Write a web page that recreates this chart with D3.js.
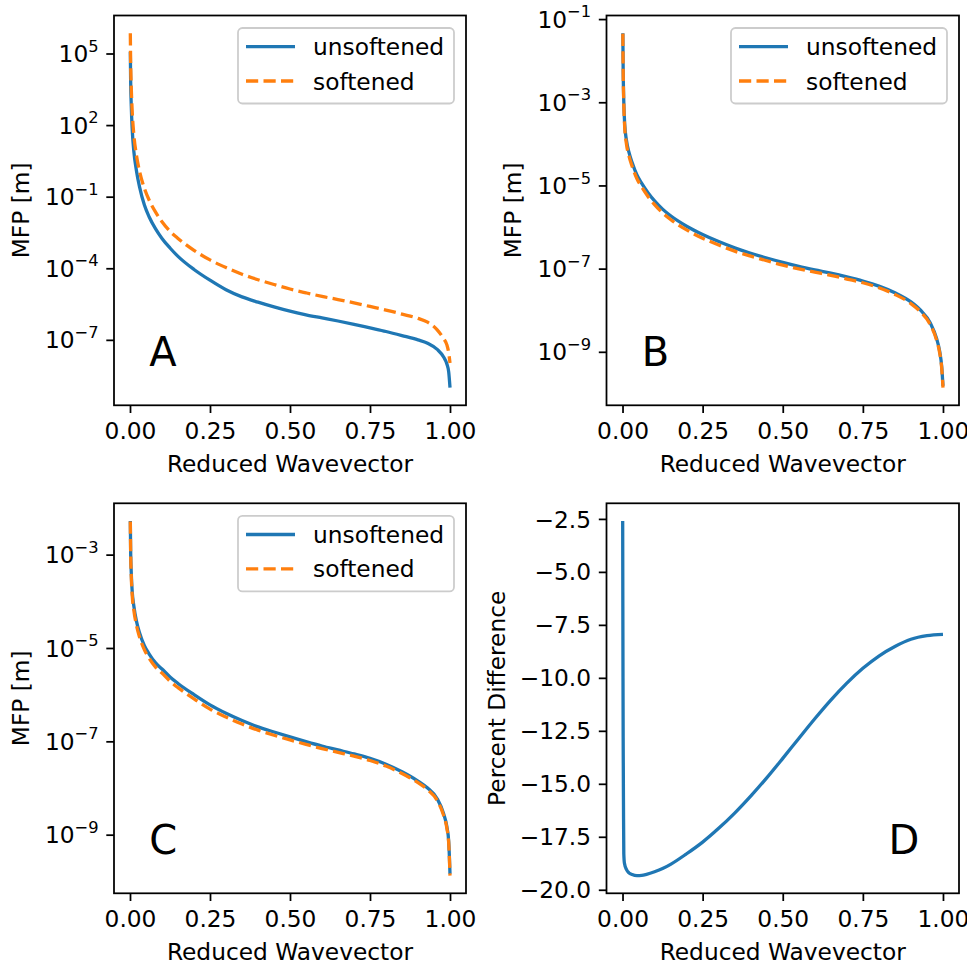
<!DOCTYPE html>
<html><head><meta charset="utf-8">
<script src="https://cdn.jsdelivr.net/npm/d3@7"></script>
<style>
body{margin:0;background:#fff}
svg{display:block}
text{font-family:"DejaVu Sans",sans-serif;fill:#000}
</style>
</head><body>
<svg id="chart" width="967" height="963"></svg>
<script>
// ---------- DATA ----------
// reduced wavevector samples for the MFP panels
const xWave = [0.001,0.002,0.004,0.007,0.012,0.02,0.03,0.045,0.06,0.08,0.1,0.125,0.15,0.2,0.25,0.3,0.35,0.4,0.45,0.5,0.55,0.6,0.65,0.7,0.75,0.8,0.85,0.9,0.93,0.96,0.98,0.99,0.996,1.0];
// MFP values, stored as log10(MFP / m)
const mfpA_unsoftened = [5.07,3.9,2.8,1.8,0.9,0.1,-0.6,-1.35,-1.85,-2.35,-2.75,-3.15,-3.5,-4.05,-4.5,-4.9,-5.2,-5.42,-5.62,-5.8,-5.95,-6.08,-6.21,-6.35,-6.5,-6.65,-6.82,-7.0,-7.14,-7.4,-7.72,-8.0,-8.35,-9.0];
const mfpA_softened   = [5.85,4.65,3.55,2.55,1.6,0.75,0.05,-0.65,-1.15,-1.65,-2.05,-2.45,-2.75,-3.25,-3.65,-3.97,-4.25,-4.48,-4.68,-4.87,-5.03,-5.18,-5.31,-5.45,-5.6,-5.75,-5.92,-6.1,-6.26,-6.58,-6.95,-7.2,-7.55,-7.97];
const mfpB_unsoftened = [-1.34,-2.2,-3.0,-3.55,-3.9,-4.2,-4.45,-4.75,-4.95,-5.18,-5.37,-5.57,-5.73,-5.98,-6.18,-6.35,-6.5,-6.63,-6.745,-6.85,-6.945,-7.03,-7.11,-7.2,-7.3,-7.42,-7.58,-7.8,-8.0,-8.3,-8.68,-9.0,-9.35,-9.82];
const mfpB_softened   = [-1.35,-2.23,-3.06,-3.63,-3.99,-4.29,-4.54,-4.84,-5.04,-5.27,-5.46,-5.66,-5.82,-6.07,-6.27,-6.43,-6.58,-6.70,-6.81,-6.915,-7.005,-7.085,-7.16,-7.25,-7.34,-7.46,-7.62,-7.84,-8.04,-8.34,-8.72,-9.04,-9.39,-9.86];
const mfpC_unsoftened = [-2.28,-2.9,-3.4,-3.8,-4.1,-4.42,-4.68,-4.95,-5.13,-5.32,-5.45,-5.62,-5.76,-6.0,-6.22,-6.4,-6.555,-6.69,-6.8,-6.905,-7.005,-7.1,-7.185,-7.27,-7.365,-7.49,-7.65,-7.85,-8.0,-8.23,-8.55,-8.82,-9.15,-9.84];
const mfpC_softened   = [-2.29,-2.93,-3.46,-3.88,-4.19,-4.51,-4.77,-5.04,-5.22,-5.41,-5.54,-5.71,-5.85,-6.09,-6.31,-6.48,-6.63,-6.76,-6.87,-6.97,-7.065,-7.155,-7.236,-7.317,-7.41,-7.53,-7.69,-7.887,-8.037,-8.266,-8.586,-8.856,-9.186,-9.876];
// percent difference panel
const xDiff = [0.0005,0.001,0.0015,0.002,0.003,0.004,0.006,0.0125,0.02,0.03,0.045,0.06,0.075,0.1,0.125,0.15,0.2,0.25,0.3,0.35,0.4,0.45,0.5,0.55,0.6,0.65,0.7,0.75,0.8,0.85,0.9,0.95,1.0];
const percentDiff = [-2.6,-6.5,-10,-12.8,-16,-18.3,-18.75,-19.05,-19.2,-19.28,-19.33,-19.32,-19.27,-19.15,-19.0,-18.8,-18.3,-17.75,-17.1,-16.38,-15.58,-14.72,-13.8,-12.86,-11.93,-11.05,-10.25,-9.55,-8.97,-8.52,-8.18,-8.01,-7.95];
// ticks
const xTicks = [0, 0.25, 0.5, 0.75, 1.0];
const yTickExpA = [5, 2, -1, -4, -7];
const yTickExpB = [-1, -3, -5, -7, -9];
const yTickExpC = [-3, -5, -7, -9];
const yTicksD = [-20, -17.5, -15, -12.5, -10, -7.5, -5, -2.5];
const seriesNames = ["unsoftened", "softened"];
const panelLetters = ["A", "B", "C", "D"];
const xLabel = "Reduced Wavevector";
const yLabelMFP = "MFP [m]";
const yLabelDiff = "Percent Difference";

// ---------- STYLE ----------
const BLUE = "#1f77b4", ORANGE = "#ff7f0e";
const FS = 23.3, LW = 3.3, SPINE = 1.76, TICK = 7.7, PAD = 7.7;
const svg = d3.select("#chart");
const MINUS = "\u2212";

const boxes = [
  {l:114, t:15.5, r:466, b:405.3},
  {l:606.5, t:15.5, r:959, b:405.3},
  {l:114, t:503.3, r:466, b:893.3},
  {l:606.5, t:503.3, r:959, b:893.3}
];

function logDomain(arrs){
  const all = arrs.flat();
  const lo = d3.min(all), hi = d3.max(all), m = (hi - lo) * 0.05;
  return [Math.pow(10, lo - m), Math.pow(10, hi + m)];
}
function linDomain(arr){
  const lo = d3.min(arr), hi = d3.max(arr), m = (hi - lo) * 0.05;
  return [lo - m, hi + m];
}

function drawPanel(i, cfg){
  const bx = boxes[i];
  const g = svg.append("g");
  const x = d3.scaleLinear().domain([-0.05, 1.05]).range([bx.l, bx.r]);
  const y = cfg.log ? d3.scaleLog().domain(cfg.domain).range([bx.b, bx.t])
                    : d3.scaleLinear().domain(cfg.domain).range([bx.b, bx.t]);

  // x axis
  const xa = g.append("g").attr("transform", `translate(0,${bx.b})`)
    .call(d3.axisBottom(x).tickValues(xTicks).tickFormat(d3.format(".2f"))
      .tickSize(TICK).tickPadding(PAD).tickSizeOuter(0));
  xa.select(".domain").remove();
  xa.selectAll("line").attr("stroke", "#000").attr("stroke-width", SPINE);
  xa.selectAll("text").attr("font-size", FS).attr("font-family", "DejaVu Sans").attr("fill", "#000")
    .attr("dy", null).attr("y", TICK + PAD + 1.5 + 16.9);

  // y axis
  const ya = g.append("g").attr("transform", `translate(${bx.l},0)`)
    .call(d3.axisLeft(y).tickValues(cfg.yTicks).tickFormat("")
      .tickSize(TICK).tickPadding(PAD).tickSizeOuter(0));
  ya.select(".domain").remove();
  ya.selectAll("line").attr("stroke", "#000").attr("stroke-width", SPINE);
  ya.selectAll("text").remove();
  cfg.yTicks.forEach(v => {
    const t = g.append("text").attr("x", bx.l - TICK - PAD).attr("y", y(v) + 8.6)
      .attr("text-anchor", "end").attr("font-size", FS);
    if (cfg.log) {
      const e = Math.round(Math.log10(v));
      t.append("tspan").text("10");
      t.append("tspan").attr("font-size", FS * 0.7).attr("dy", -10.5)
        .text((e < 0 ? MINUS : "") + Math.abs(e));
    } else {
      t.text(d3.format(".1f")(v).replace("-", MINUS));
    }
  });

  // frame
  g.append("rect").attr("x", bx.l).attr("y", bx.t).attr("width", bx.r - bx.l).attr("height", bx.b - bx.t)
    .attr("fill", "none").attr("stroke", "#000").attr("stroke-width", SPINE);

  // lines
  const line = d3.line().x(d => x(d[0])).y(d => y(d[1])).curve(d3.curveMonotoneX);
  cfg.series.forEach(s => {
    g.append("path").datum(s.xs.map((xv, k) => [xv, s.ys[k]]))
      .attr("d", line).attr("fill", "none").attr("stroke", s.color)
      .attr("stroke-width", LW).attr("stroke-dasharray", s.dash ? "12.2,5.3" : null)
      .attr("stroke-linecap", "butt").attr("stroke-linejoin", "round");
  });

  // labels
  g.append("text").attr("x", (bx.l + bx.r) / 2).attr("y", bx.b + 66.5)
    .attr("text-anchor", "middle").attr("font-size", FS).text(xLabel);
  g.append("text").attr("transform", `translate(${bx.l + cfg.ylabX},${(bx.t + bx.b) / 2}) rotate(-90)`)
    .attr("text-anchor", "middle").attr("font-size", FS).text(cfg.ylabel);

  // panel letter
  g.append("text").attr("x", bx.l + cfg.letterFx * (bx.r - bx.l)).attr("y", bx.b - 0.1 * (bx.b - bx.t))
    .attr("font-size", 40).text(panelLetters[i]);

  // legend
  if (cfg.legend) {
    const lw = 216, lh = 75.5;
    const lx = bx.r - 12 - lw, ly = bx.t + 12.5;
    const lg = g.append("g").attr("transform", `translate(${lx},${ly})`);
    lg.append("rect").attr("width", lw).attr("height", lh).attr("rx", 4.4).attr("ry", 4.4)
      .attr("fill", "#fff").attr("fill-opacity", 0.8).attr("stroke", "#cccccc").attr("stroke-width", 1.76);
    cfg.series.forEach((s, k) => {
      const cy = 18.7 + k * 34.3;
      lg.append("line").attr("x1", 8).attr("x2", 57).attr("y1", cy).attr("y2", cy)
        .attr("stroke", s.color).attr("stroke-width", LW).attr("stroke-dasharray", s.dash ? "12.2,5.3" : null);
      lg.append("text").attr("x", 75).attr("y", cy + 8.5).attr("font-size", FS).text(seriesNames[k]);
    });
  }
}

const pow10 = a => a.map(v => Math.pow(10, v));

drawPanel(0, {log:true, domain: logDomain([mfpA_unsoftened, mfpA_softened]),
  yTicks: pow10(yTickExpA), ylabel: yLabelMFP, ylabX: -85.5, letterFx: 0.1, legend: true,
  series: [{xs:xWave, ys:pow10(mfpA_unsoftened), color:BLUE}, {xs:xWave, ys:pow10(mfpA_softened), color:ORANGE, dash:true}]});
drawPanel(1, {log:true, domain: logDomain([mfpB_unsoftened, mfpB_softened]),
  yTicks: pow10(yTickExpB), ylabel: yLabelMFP, ylabX: -85.8, letterFx: 0.1, legend: true,
  series: [{xs:xWave, ys:pow10(mfpB_unsoftened), color:BLUE}, {xs:xWave, ys:pow10(mfpB_softened), color:ORANGE, dash:true}]});
drawPanel(2, {log:true, domain: logDomain([mfpC_unsoftened, mfpC_softened]),
  yTicks: pow10(yTickExpC), ylabel: yLabelMFP, ylabX: -85.5, letterFx: 0.1, legend: true,
  series: [{xs:xWave, ys:pow10(mfpC_unsoftened), color:BLUE}, {xs:xWave, ys:pow10(mfpC_softened), color:ORANGE, dash:true}]});
drawPanel(3, {log:false, domain: linDomain(percentDiff),
  yTicks: yTicksD, ylabel: yLabelDiff, ylabX: -101.5, letterFx: 0.8, legend: false,
  series: [{xs:xDiff, ys:percentDiff, color:BLUE}]});
</script>
</body></html>
